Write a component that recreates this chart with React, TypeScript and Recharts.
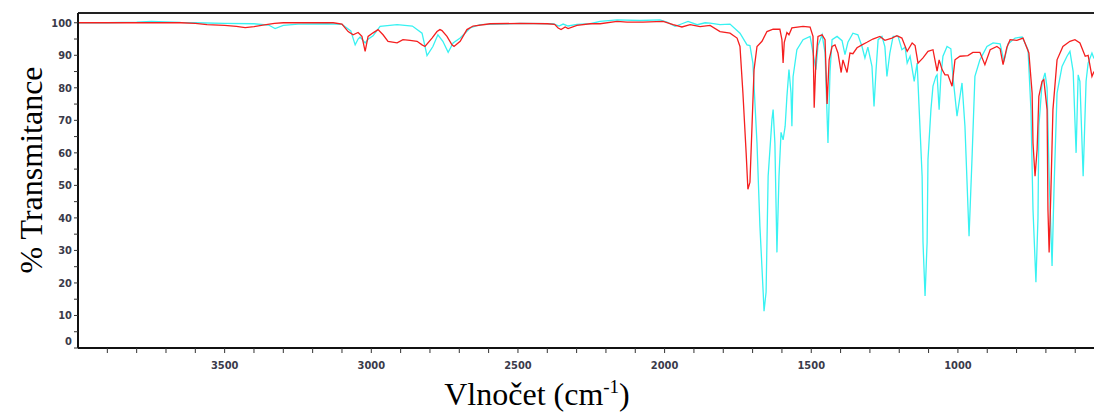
import React from 'react';
import { LineChart, Line, XAxis, YAxis, ReferenceLine } from 'recharts';

// IR spectra, [wavenumber cm-1, % transmittance]
const redSpectrum: [number, number][] = [
  [4000, 100], [3800, 100], [3650, 100], [3600, 99.8], [3560, 99.4], [3500, 99.2],
  [3460, 98.9], [3430, 98.5], [3400, 98.8], [3370, 99.3], [3330, 99.8], [3300, 100],
  [3200, 100], [3130, 100], [3100, 99.6], [3079, 97.3], [3062, 96.3], [3045, 97],
  [3032, 95.8], [3021, 91.2], [3011, 95.8], [2994, 96.9], [2977, 97.9], [2960, 96.3],
  [2943, 94.3], [2912, 93.8], [2892, 94.8], [2868, 94.6], [2844, 94.3], [2827, 93.2],
  [2817, 92.7], [2793, 95.3], [2776, 97.3], [2766, 97.9], [2759, 97.6], [2742, 95.8],
  [2725, 93.2], [2718, 92.7], [2697, 94.3], [2674, 97.9], [2653, 99], [2595, 99.7],
  [2493, 99.8], [2400, 99.7], [2375, 99.5], [2363, 98.4], [2353, 97.9], [2339, 98.7],
  [2329, 98.2], [2299, 99.2], [2254, 99.7], [2220, 99.7], [2162, 100.4], [2128, 100.2],
  [2074, 100.2], [2005, 100.4], [1971, 99.4], [1941, 98.7], [1913, 99.4], [1879, 98.8],
  [1845, 99.2], [1811, 97.3], [1777, 96.8], [1753, 95.3], [1743, 92.7], [1733, 78.4],
  [1722, 60], [1716, 48.8], [1709, 51], [1702, 68.2], [1695, 85.6], [1685, 92.7],
  [1668, 94.3], [1651, 97.3], [1630, 98], [1607, 98], [1600, 94.8], [1596, 87.6],
  [1592, 94], [1583, 97], [1576, 96.3], [1566, 98.4], [1528, 98.9], [1504, 98.7],
  [1494, 95.8], [1490, 73.9], [1484, 88.6], [1477, 95.8], [1463, 96.3], [1453, 94.8],
  [1446, 75], [1439, 88.6], [1429, 92.7], [1419, 93.2], [1409, 90.7], [1398, 84.7],
  [1392, 88.6], [1378, 84.7], [1368, 90.7], [1358, 90.5], [1344, 92.3], [1327, 93.2],
  [1310, 94], [1290, 95], [1266, 95.8], [1249, 94.6], [1225, 95.3], [1208, 96],
  [1191, 95.3], [1173, 91.2], [1156, 93.8], [1146, 93], [1136, 87.6], [1119, 89.2],
  [1102, 91.2], [1085, 91.7], [1071, 85.1], [1064, 88.6], [1054, 85.6], [1044, 84],
  [1034, 84], [1020, 80.5], [1010, 88.6], [993, 89.7], [966, 89.9], [949, 90.9],
  [925, 90.9], [908, 87.1], [890, 91.7], [867, 92.7], [856, 92], [846, 87.1],
  [833, 92.5], [822, 94.8], [799, 94.6], [778, 95.3], [758, 90.7], [747, 78.4],
  [744, 63], [737, 52.8], [730, 61], [724, 77.4], [713, 82], [707, 82.5],
  [696, 73.3], [693, 42.6], [689, 29.4], [683, 47.9], [676, 73.3], [662, 88.6],
  [642, 92.7], [618, 94.3], [601, 94.8], [584, 93.8], [566, 89.7], [556, 90],
  [543, 83.5], [536, 85],
];

const cyanSpectrum: [number, number][] = [
  [4000, 100], [3900, 100], [3800, 100.2], [3750, 100.4], [3700, 100.3], [3650, 100.1],
  [3600, 100], [3500, 99.8], [3400, 99.7], [3350, 99.3], [3328, 98.2], [3300, 99.2],
  [3250, 99.6], [3150, 99.7], [3100, 99.5], [3070, 97.5], [3055, 93.2], [3045, 95],
  [3038, 95.6], [3021, 93.8], [3010, 95], [2994, 96], [2970, 98.9], [2912, 99.4],
  [2860, 99], [2827, 96.8], [2810, 89.9], [2790, 92.7], [2773, 96.3], [2756, 94.3],
  [2738, 90.9], [2721, 93.8], [2697, 95.3], [2663, 98.4], [2629, 99.4], [2493, 99.8],
  [2391, 99.7], [2380, 99.7], [2360, 99], [2346, 99.6], [2329, 99], [2299, 99.5],
  [2254, 99.7], [2220, 100.4], [2162, 100.9], [2084, 100.7], [2016, 100.9], [1992, 100.2],
  [1964, 98.9], [1941, 99.7], [1920, 100.4], [1889, 99.4], [1862, 100], [1845, 99.9],
  [1811, 99.4], [1777, 99.6], [1743, 96.8], [1719, 93.2], [1709, 93], [1699, 87.6],
  [1685, 63], [1675, 37.4], [1664, 17.2], [1661, 11.3], [1654, 17.2], [1647, 52.8],
  [1634, 70.2], [1630, 73.3], [1624, 63], [1617, 29.4], [1610, 52.8], [1603, 66.3],
  [1596, 64], [1589, 68.2], [1583, 77.3], [1576, 85.6], [1569, 78.4], [1566, 68.2],
  [1562, 83.4], [1549, 91.7], [1528, 94.8], [1504, 95.8], [1494, 90.8], [1484, 85.6],
  [1477, 93], [1463, 96.3], [1453, 90.8], [1443, 63], [1436, 85], [1429, 94.8],
  [1412, 95.8], [1395, 94.5], [1385, 90.2], [1375, 94], [1358, 96.8], [1341, 96.3],
  [1327, 92.7], [1317, 89.2], [1307, 92.5], [1293, 86.6], [1286, 74.3], [1279, 85.6],
  [1272, 94.8], [1259, 95.8], [1249, 92.7], [1242, 83.5], [1232, 90.7], [1221, 95.8],
  [1204, 95.8], [1191, 91.7], [1180, 92.5], [1173, 87.6], [1163, 89.7], [1149, 82],
  [1139, 87.6], [1132, 73.3], [1122, 52.8], [1119, 32.5], [1112, 16], [1105, 32.5],
  [1102, 58], [1092, 73.3], [1085, 80.5], [1075, 83.5], [1071, 84], [1064, 73.3],
  [1058, 83.5], [1051, 89.7], [1037, 92.7], [1024, 92], [1017, 83.5], [1003, 71.3],
  [986, 81.5], [976, 68.2], [962, 34.4], [952, 58], [942, 83.5], [925, 88.6],
  [901, 92.7], [880, 93.8], [856, 93.5], [843, 88.1], [829, 93.5], [805, 95.3],
  [781, 95.6], [761, 91.7], [751, 73.3], [744, 42.6], [734, 20.2], [727, 40],
  [724, 68.2], [713, 81.5], [703, 84.6], [696, 80], [689, 52.8], [679, 25.2],
  [672, 50], [662, 78.4], [645, 86.6], [628, 89.7], [618, 91.2], [607, 85],
  [597, 60], [590, 84], [584, 82], [573, 52.8], [563, 82], [556, 87.6],
  [543, 90.7], [536, 89],
];

const xTicks = [600, 700, 800, 900, 1000, 1100, 1200, 1300, 1400, 1500, 1600, 1700, 1800, 1900,
  2000, 2100, 2200, 2300, 2400, 2500, 2600, 2700, 2800, 2900, 3000, 3100, 3200, 3300, 3400,
  3500, 3600, 3700, 3800, 3900];
const yTicks = [0, 5, 10, 15, 20, 25, 30, 35, 40, 45, 50, 55, 60, 65, 70, 75, 80, 85, 90, 95, 100];

const redData = redSpectrum.map(([wn, t]) => ({ wn, t }));
const cyanData = cyanSpectrum.map(([wn, t]) => ({ wn, t }));

const tickFont = '"Liberation Sans Narrow", "DejaVu Sans Condensed", Arial, sans-serif';
const titleFont = '"Liberation Serif", "Times New Roman", serif';

const YTick = ({ x, y, payload }: any) => {
  if (payload.value % 10 !== 0) return null;
  const dy = payload.value === 0 ? -7 : 0;
  return (
    <text x={x} y={y + dy} dy="0.35em" textAnchor="end" fontSize={11} fontWeight="bold"
      fontFamily={tickFont} fill="#3a3a4a">
      {payload.value}
    </text>
  );
};

const XTick = ({ x, y, payload }: any) => {
  if (payload.value % 500 !== 0) return null;
  return (
    <text x={x} y={y} dy="0.71em" textAnchor="middle" fontSize={11} fontWeight="bold"
      fontFamily={tickFont} fill="#3a3a4a">
      {payload.value}
    </text>
  );
};

export default function App() {
  return (
    <div style={{ position: 'absolute', left: 0, top: 0, width: 1094, height: 412, overflow: 'hidden', background: '#fff' }}>
      <LineChart width={1094} height={412} margin={{ top: 13, right: 0, left: 0, bottom: 0 }}>
        <XAxis
          dataKey="wn"
          type="number"
          domain={[536, 4000]}
          reversed
          ticks={xTicks}
          interval={0}
          tick={<XTick />}
          tickSize={5}
          tickMargin={8}
          height={64}
          allowDataOverflow
          axisLine={{ stroke: '#111', strokeWidth: 2 }}
          tickLine={{ stroke: '#333' }}
        />
        <YAxis
          type="number"
          domain={[0, 103]}
          ticks={yTicks}
          interval={0}
          tick={<YTick />}
          tickSize={4}
          tickMargin={2}
          width={78}
          allowDataOverflow
          axisLine={{ stroke: '#111', strokeWidth: 2 }}
          tickLine={{ stroke: '#333' }}
        />
        <ReferenceLine y={103} stroke="#222" strokeWidth={2} />
        <Line data={cyanData} dataKey="t" stroke="#38f2f2" strokeWidth={1.3} dot={false}
          isAnimationActive={false} type="linear" />
        <Line data={redData} dataKey="t" stroke="#f51f1f" strokeWidth={1.3} dot={false}
          isAnimationActive={false} type="linear" />
      </LineChart>
      <div style={{
        position: 'absolute', left: 31, top: 170, transform: 'translate(-50%, -50%) rotate(-90deg)',
        whiteSpace: 'nowrap', fontFamily: titleFont, fontSize: 32, lineHeight: 1, color: '#000',
      }}>
        % Transmitance
      </div>
      <div style={{
        position: 'absolute', left: 537, top: 378, transform: 'translateX(-50%)',
        whiteSpace: 'nowrap', fontFamily: titleFont, fontSize: 32, lineHeight: 1, color: '#000',
      }}>
        Vlnočet (cm<sup style={{ fontSize: 19, lineHeight: 0 }}>-1</sup>)
      </div>
    </div>
  );
}
